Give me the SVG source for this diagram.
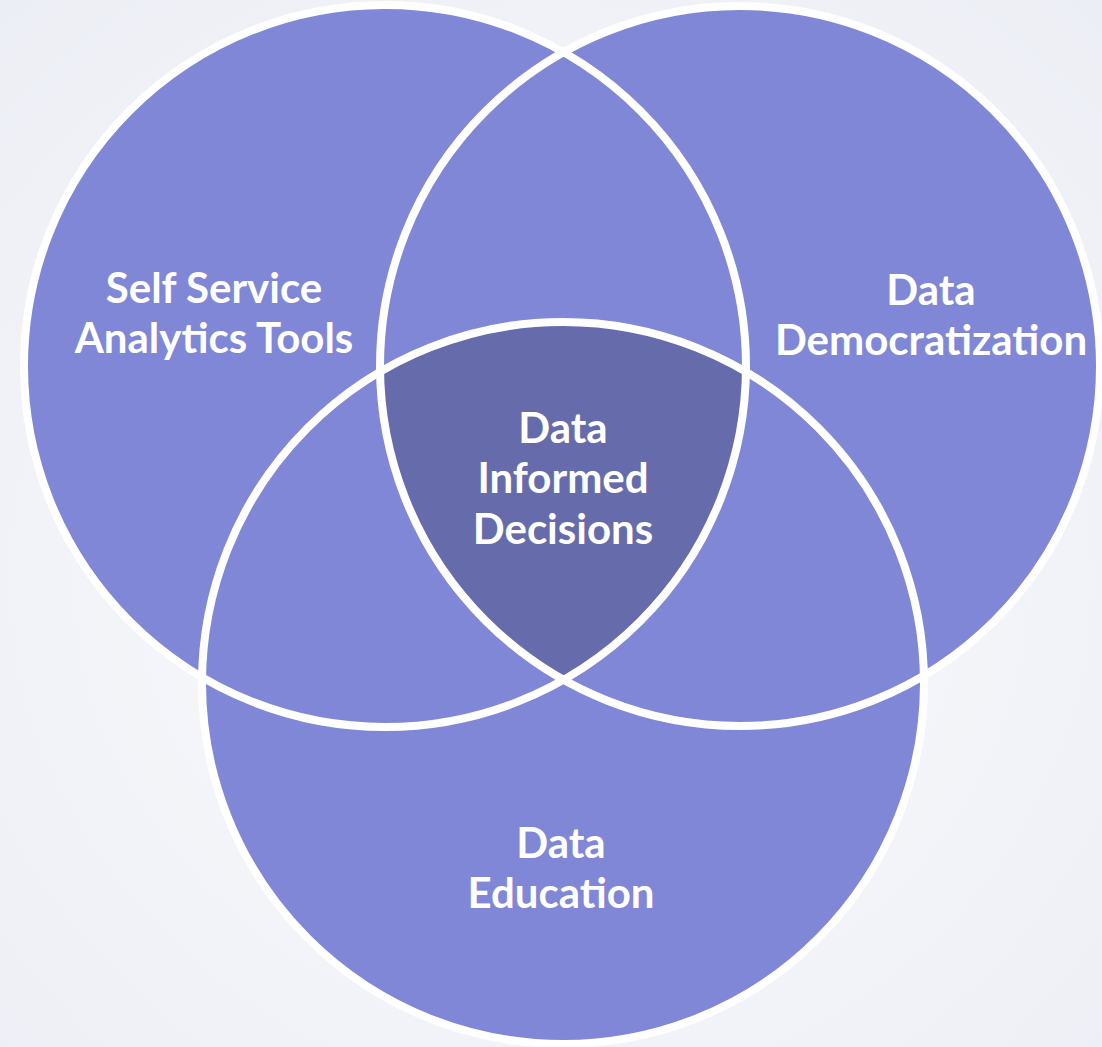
<svg xmlns="http://www.w3.org/2000/svg" width="1102" height="1047" viewBox="0 0 1102 1047">
  <defs>
    <radialGradient id="bg" cx="50%" cy="55%" r="75%">
      <stop offset="0" stop-color="#fbfbfd"/>
      <stop offset="1" stop-color="#eceef5"/>
    </radialGradient>
    <clipPath id="clipLeft"><circle cx="385" cy="366" r="361"/></clipPath>
    <clipPath id="clipRight"><circle cx="740" cy="366" r="360"/></clipPath>
    <style>
      .disc { fill: #7f87d6; }
      .ring { fill: none; stroke: #ffffff; stroke-width: 8; }
      .core { fill: #666bab; }
      .label { font-family: "Lato", "Liberation Sans", sans-serif; font-weight: 700; font-size: 42px; fill: #ffffff; text-anchor: middle; }
    </style>
  </defs>

  <rect x="0" y="0" width="1102" height="1047" fill="url(#bg)"/>

  <!-- filled discs -->
  <g id="self-service">
    <circle class="disc" cx="385" cy="366" r="361"/>
  </g>
  <g id="democratization">
    <circle class="disc" cx="740" cy="366" r="360"/>
  </g>
  <g id="education">
    <circle class="disc" cx="563" cy="683" r="361"/>
  </g>

  <!-- region shared by all three sets -->
  <g id="informed-decisions">
    <g clip-path="url(#clipLeft)">
      <g clip-path="url(#clipRight)">
        <circle class="core" cx="563" cy="683" r="361"/>
      </g>
    </g>
  </g>

  <!-- outlines drawn over every fill -->
  <g id="connectors">
    <circle class="ring" cx="385" cy="366" r="361"/>
    <circle class="ring" cx="740" cy="366" r="360"/>
    <circle class="ring" cx="563" cy="683" r="361"/>
  </g>

  <g id="labels">
    <text class="label" x="214" y="303">Self Service</text>
    <text class="label" x="214" y="353">Analytics Tools</text>
    <text class="label" x="931" y="305">Data</text>
    <text class="label" x="931" y="355">Democratization</text>
    <text class="label" x="563" y="443">Data</text>
    <text class="label" x="563" y="493">Informed</text>
    <text class="label" x="563" y="544">Decisions</text>
    <text class="label" x="561" y="858">Data</text>
    <text class="label" x="561" y="908">Education</text>
  </g>
</svg>
